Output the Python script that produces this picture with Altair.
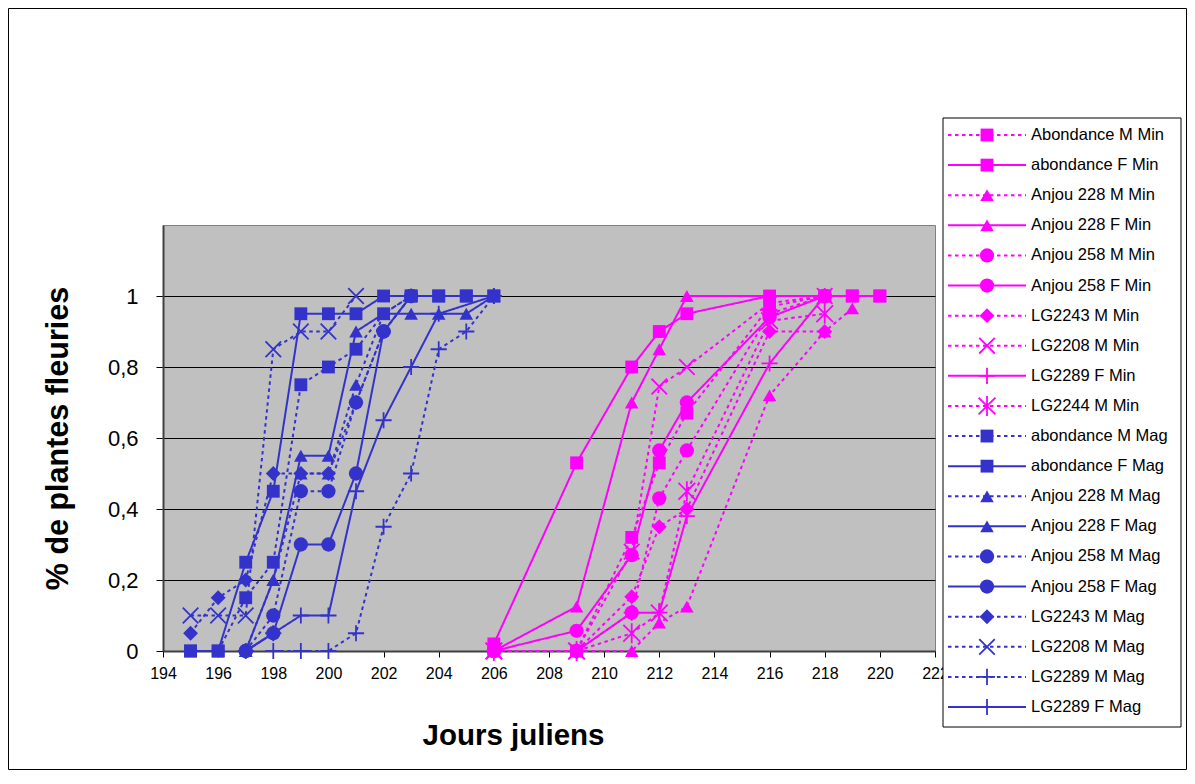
import altair as alt
import pandas as pd

# ---------------- data ----------------
MIN_DAYS = [206, 209, 211, 212, 213, 216, 218, 219, 220]
MAG_DAYS = [195, 196, 197, 198, 199, 200, 201, 202, 203, 204, 205, 206]

SERIES = [
    "Abondance M Min", "abondance F Min", "Anjou 228 M Min", "Anjou 228 F Min",
    "Anjou 258 M Min", "Anjou 258 F Min", "LG2243 M Min", "LG2208 M Min",
    "LG2289 F Min", "LG2244 M Min",
    "abondance M Mag", "abondance F Mag", "Anjou 228 M Mag", "Anjou 228 F Mag",
    "Anjou 258 M Mag", "Anjou 258 F Mag", "LG2243 M Mag", "LG2208 M Mag",
    "LG2289 M Mag", "LG2289 F Mag",
]
GROUPS = ["Min"] * 10 + ["Mag"] * 10
SEXES = ["M", "F", "M", "F", "M", "F", "M", "M", "F", "M",
         "M", "F", "M", "F", "M", "F", "M", "M", "M", "F"]
MARKERS = ["square", "square", "triangle", "triangle", "circle", "circle",
           "diamond", "cross", "plus", "star",
           "square", "square", "triangle", "triangle", "circle", "circle",
           "diamond", "cross", "plus", "plus"]

N = None
# values at MIN_DAYS
ab_M_min = [0, 0, 0.32, 0.53, 0.67, 0.97, 1, 1, 1]
ab_F_min = [0.02, 0.53, 0.80, 0.90, 0.95, 1, 1, 1, 1]
a228_M_min = [0, 0, 0, 0.08, 0.125, 0.72, 0.90, 0.965, N]
a228_F_min = [0, 0.125, 0.70, 0.85, 1, 1, 1, N, N]
a258_M_min = [0, 0, 0.108, 0.43, 0.565, 0.95, 1, N, N]
a258_F_min = [0, 0.057, 0.27, 0.565, 0.70, 0.94, 1, N, N]
lg2243_M_min = [0, 0, 0.153, 0.35, 0.40, 0.90, 0.90, N, N]
lg2208_M_min = [0, 0, 0.28, 0.745, 0.80, 0.98, 1, N, N]
lg2289_F_min = [N, 0, 0.108, 0.108, 0.38, 0.81, 1, N, N]
lg2244_M_min = [0, 0, 0.05, 0.107, 0.45, 0.93, 0.95, N, N]

# values at MAG_DAYS
ab_M_mag = [0, 0, 0.15, 0.25, 0.75, 0.80, 0.85, 0.95, 1, 1, 1, 1]
ab_F_mag = [0, 0, 0.25, 0.45, 0.95, 0.95, 0.95, 1, 1, 1, 1, 1]
a228_M_mag = [N, N, 0, 0.20, 0.50, 0.50, 0.75, 0.95, 1, N, N, N]
a228_F_mag = [N, N, 0, 0.20, 0.55, 0.55, 0.90, 0.95, 0.95, 0.95, 0.95, 1]
a258_M_mag = [N, N, 0, 0.10, 0.45, 0.45, 0.70, 0.90, 1, N, N, N]
a258_F_mag = [N, N, 0, 0.05, 0.30, 0.30, 0.50, 0.90, 1, N, N, N]
lg2243_M_mag = [0.05, 0.15, 0.20, 0.50, 0.50, 0.50, 0.70, 0.90, 1, N, N, N]
lg2208_M_mag = [0.10, 0.10, 0.10, 0.85, 0.90, 0.90, 1, N, N, N, N, N]
lg2289_M_mag = [N, N, N, 0, 0, 0, 0.05, 0.35, 0.50, 0.85, 0.90, 1]
lg2289_F_mag = [N, N, 0, 0.05, 0.10, 0.10, 0.45, 0.65, 0.80, 0.95, N, 1]

VALUES = [ab_M_min, ab_F_min, a228_M_min, a228_F_min, a258_M_min, a258_F_min,
          lg2243_M_min, lg2208_M_min, lg2289_F_min, lg2244_M_min,
          ab_M_mag, ab_F_mag, a228_M_mag, a228_F_mag, a258_M_mag, a258_F_mag,
          lg2243_M_mag, lg2208_M_mag, lg2289_M_mag, lg2289_F_mag]

rows = []
for name, grp, sex, mk, vals in zip(SERIES, GROUPS, SEXES, MARKERS, VALUES):
    days = MIN_DAYS if grp == "Min" else MAG_DAYS
    for d, v in zip(days, vals):
        if v is not None:
            rows.append({"series": name, "group": grp, "sex": sex,
                         "marker": mk, "day": d, "value": v})
df = pd.DataFrame(rows)

legend_df = pd.DataFrame({"series": SERIES, "group": GROUPS, "sex": SEXES,
                          "marker": MARKERS})
legend_df["lx0"] = 0.0
legend_df["lx1"] = 1.0
legend_df["lxm"] = 0.5

# ---------------- styles ----------------
FONT = "Liberation Sans"
MARK_KEYS = ["square", "triangle", "circle", "diamond", "cross", "plus", "star"]
MARK_SYMBOLS = ["square", "triangle-up", "circle", "diamond",
                "M-1,-1L1,1M-1,1L1,-1",
                "M-1,0L1,0M0,-1L0,1",
                "M-1,-1L1,1M-1,1L1,-1M0,-1.2L0,1.2"]
MARK_SIZES = [165, 280, 175, 220, 170, 210, 170]
FILLED = ["square", "triangle", "circle", "diamond"]
STROKED = ["cross", "plus", "star"]

color_scale = alt.Scale(domain=["Min", "Mag"], range=["#FF00FF", "#3333CC"])
dash_scale = alt.Scale(domain=["M", "F"], range=[[3.5, 3.5], [1, 0]])
shape_scale = alt.Scale(domain=MARK_KEYS, range=MARK_SYMBOLS)
size_scale = alt.Scale(domain=MARK_KEYS, range=MARK_SIZES)

W, H = 772, 426

color_enc = alt.Color("group:N", scale=color_scale, legend=None)
dash_enc = alt.StrokeDash("sex:N", scale=dash_scale, legend=None)
shape_enc = alt.Shape("marker:N", scale=shape_scale, legend=None)
size_enc = alt.Size("marker:O", scale=size_scale, legend=None)

x_main = alt.X(
    "day:Q",
    scale=alt.Scale(domain=[194, 222], nice=False, zero=False),
    axis=alt.Axis(
        values=list(range(194, 223, 2)), format="d", title="Jours juliens",
        grid=False, tickColor="black", tickSize=6, domainColor="#404040",
        domainWidth=2, labelFontSize=16, labelPadding=8, labelFlush=False,
        labelOverlap=False, labelColor="black",
        titleFontSize=29.5, titleFontWeight="bold", titleColor="black",
        titleX=350, titleY=84, titleAlign="center", titleBaseline="middle",
    ),
)
y_main = alt.Y(
    "value:Q",
    scale=alt.Scale(domain=[0, 1.2], nice=False),
    axis=alt.Axis(
        values=[0, 0.2, 0.4, 0.6, 0.8, 1.0],
        labelExpr="replace(format(datum.value, '~g'), '.', ',')",
        title="% de plantes fleuries", grid=True, gridColor="black",
        gridWidth=1, tickColor="black", tickSize=7, domainColor="#404040",
        domainWidth=2, labelFontSize=22, labelPadding=18, labelColor="black",
        titleFontSize=30.5, titleFontWeight="bold", titleColor="black",
        titleX=-105, titleY=213, titleAngle=270, titleAlign="center",
        titleBaseline="middle",
    ),
)

base = alt.Chart(df)
lines = base.mark_line(strokeWidth=2).encode(
    x=x_main, y=y_main, color=color_enc, strokeDash=dash_enc,
    detail="series:N", order="day:Q")
pts_fill = base.transform_filter(
    alt.FieldOneOfPredicate(field="marker", oneOf=FILLED)
).mark_point(filled=True, opacity=1).encode(
    x=x_main, y=y_main, color=color_enc, shape=shape_enc, size=size_enc)
pts_stroke = base.transform_filter(
    alt.FieldOneOfPredicate(field="marker", oneOf=STROKED)
).mark_point(filled=False, opacity=1, strokeWidth=1.8).encode(
    x=x_main, y=y_main, color=color_enc, shape=shape_enc, size=size_enc)
main = alt.layer(lines, pts_fill, pts_stroke)

# ---------------- legend ----------------
lx = alt.Scale(domain=[0, 1], range=[785, 863])
ly = alt.Scale(type="point", domain=SERIES, range=[-90, 482], padding=0)
leg_y = alt.Y("series:N", scale=ly, axis=None)
lbase = alt.Chart(legend_df)
leg_box = alt.Chart(alt.Data(values=[{}])).mark_rect(
    fill="white", stroke="black", strokeWidth=1).encode(
    x=alt.value(780), x2=alt.value(1018), y=alt.value(-107), y2=alt.value(502))
leg_rule = lbase.mark_rule(strokeWidth=2).encode(
    x=alt.X("lx0:Q", scale=lx, axis=None), x2="lx1:Q", y=leg_y,
    color=color_enc, strokeDash=dash_enc)
leg_fill = lbase.transform_filter(
    alt.FieldOneOfPredicate(field="marker", oneOf=FILLED)
).mark_point(filled=True, opacity=1).encode(
    x=alt.X("lxm:Q", scale=lx, axis=None), y=leg_y, color=color_enc,
    shape=shape_enc, size=size_enc)
leg_stroke = lbase.transform_filter(
    alt.FieldOneOfPredicate(field="marker", oneOf=STROKED)
).mark_point(filled=False, opacity=1, strokeWidth=1.8).encode(
    x=alt.X("lxm:Q", scale=lx, axis=None), y=leg_y, color=color_enc,
    shape=shape_enc, size=size_enc)
leg_text = lbase.mark_text(align="left", baseline="middle", dx=5,
                           fontSize=16.5, font=FONT, color="black").encode(
    x=alt.X("lx1:Q", scale=lx, axis=None), y=leg_y, text="series:N")
legend = alt.layer(leg_box, leg_rule, leg_fill, leg_stroke, leg_text)

frame = alt.Chart(alt.Data(values=[{}])).mark_rect(
    fillOpacity=0, stroke="black", strokeWidth=1).encode(
    x=alt.value(-154.5), x2=alt.value(1023.5),
    y=alt.value(-216.5), y2=alt.value(544.5))

chart = alt.layer(frame, main, legend).resolve_scale(
    x="independent", y="independent"
).properties(
    width=W, height=H, autosize="none",
    padding={"left": 155, "top": 217, "right": 252, "bottom": 119},
).configure_view(
    fill="#C0C0C0", stroke="#808080"
).configure_axis(
    labelFont=FONT, titleFont=FONT
).configure_text(font=FONT)

chart.save("out.html", embed_options={"renderer": "svg", "actions": False})
